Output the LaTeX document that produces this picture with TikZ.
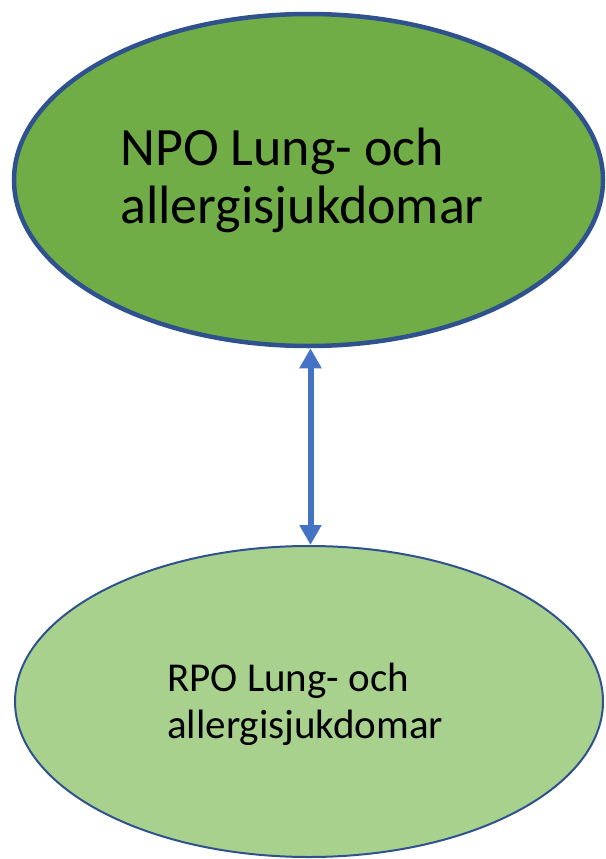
\documentclass[tikz,border=0pt]{standalone}
\usepackage{fontspec}
\setmainfont{Carlito}
\usetikzlibrary{shapes.geometric,arrows.meta}
\definecolor{darkgreen}{HTML}{70AD47}
\definecolor{lightgreen}{HTML}{A9D18E}
\definecolor{edgeblue}{HTML}{2F528F}
\definecolor{arrowblue}{HTML}{4472C4}
\tikzset{
  bigell/.style={ellipse, draw=edgeblue, fill=darkgreen, line width=4.5pt, inner sep=0pt,
    minimum width=589pt, minimum height=332pt},
  smallell/.style={ellipse, draw=edgeblue, fill=lightgreen, line width=2pt, inner sep=0pt,
    minimum width=588pt, minimum height=311pt},
  toptext/.style={inner sep=0pt, align=left, font=\fontsize{54}{58}\selectfont, text=black},
  bottext/.style={inner sep=0pt, align=left, font=\fontsize{41}{47}\selectfont, text=black},
  link/.style={arrowblue, line width=6pt,
    {Triangle[width=21pt,length=20pt]}-{Triangle[width=21pt,length=20pt]}}
}
\begin{document}
\begin{tikzpicture}[x=1pt,y=-1pt]
\useasboundingbox (0,0) rectangle (605,859);
\node[bigell] (npo) at (308.5,180) {};
\node[smallell] (rpo) at (309,701.5) {};
\node[toptext, anchor=base west] (npotext) at (120,223) {NPO Lung- och\\allergisjukdomar};
\node[bottext, anchor=base west] (rpotext) at (167,738) {RPO Lung- och\\allergisjukdomar};
\draw[link] ([xshift=2pt]npo.south) -- ([xshift=1.5pt]rpo.north);
\end{tikzpicture}
\end{document}
